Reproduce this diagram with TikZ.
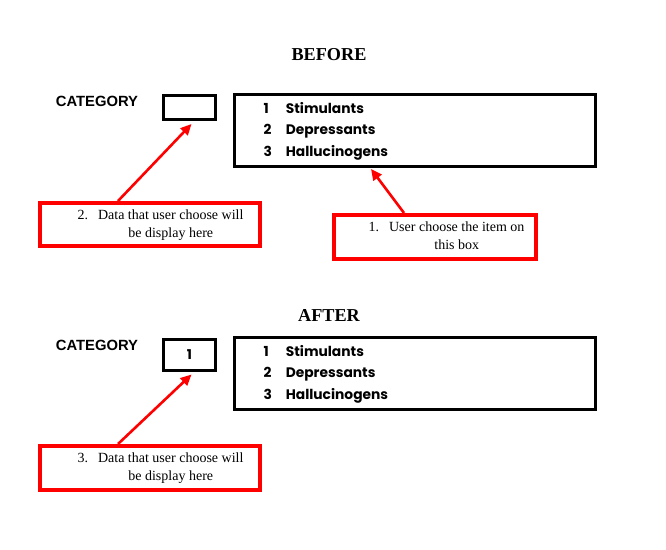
\documentclass[tikz,border=0pt]{standalone}
\usepackage{fontspec}
\setmainfont{Liberation Serif}
\newfontfamily\catfont{Liberation Sans}
\newfontfamily\listfont{Poppins}
\usetikzlibrary{arrows.meta,positioning}

\newcommand{\drugitems}{%
  \renewcommand{\arraystretch}{1.2}%
  \begin{tabular}{@{}l@{\hspace{14pt}}l@{}}
    1 & Stimulants\\
    2 & Depressants\\
    3 & Hallucinogens
  \end{tabular}}

\begin{document}
\begin{tikzpicture}[x=1pt, y=-1pt,
  title/.style={font=\fontsize{18.2}{21}\selectfont\bfseries},
  catlabel/.style={font=\catfont\fontsize{14.8}{17}\selectfont\bfseries},
  valbox/.style={draw, line width=3pt, minimum width=52pt, inner sep=0pt,
                 font=\listfont\fontsize{13.5}{16}\selectfont\bfseries},
  listbox/.style={draw, line width=3pt, minimum width=361pt, minimum height=72pt,
                  inner sep=0pt, text width=361pt, align=left,
                  font=\listfont\fontsize{13.8}{18}\selectfont\bfseries},
  note/.style={draw=red, line width=4pt, minimum width=220pt, inner sep=0pt,
               font=\fontsize{14}{16.8}\selectfont},
  arr/.style={-{Triangle[length=11pt,width=10pt]}, red, line width=2.6pt}
]
\useasboundingbox (0,0) rectangle (666,549);

% before
\node[title] (before) at (329,55) {BEFORE};
\node[catlabel] (catA) at (97,101) {CATEGORY};
\node[valbox, minimum height=24pt] (valA) at (189.5,107.5) {};
\node[listbox] (listA) at (415,130.5) {\hspace*{29pt}\drugitems};
\node[note, minimum height=43pt] (noteB) at (150,224.5)
  {\hspace*{21pt}\renewcommand{\arraystretch}{1.07}%
   \begin{tabular}{@{}r@{\hspace{10pt}}c@{}}2. & Data that user choose will\\ & be display here\end{tabular}};
\node[note, minimum width=202pt, minimum height=44pt] (noteA) at (435,237)
  {\hspace*{23pt}\renewcommand{\arraystretch}{1.07}%
   \begin{tabular}{@{}r@{\hspace{10pt}}c@{}}1. & User choose the item on\\ & this box\end{tabular}};
\draw[arr] ([shift={(-32,0)}]noteB.north) -- ([shift={(2,3)}]valA.south);
\draw[arr] ([shift={(-31,0)}]noteA.north) -- ([shift={(-44,1)}]listA.south);

% after
\node[title] (after) at (329,315) {AFTER};
\node[catlabel] (catB) at (97,345) {CATEGORY};
\node[valbox, minimum height=31pt] (valB) at (189.5,354.5) {1};
\node[listbox] (listB) at (415,373.5) {\hspace*{29pt}\drugitems};
\node[note, minimum height=44pt] (noteC) at (150,468)
  {\hspace*{21pt}\renewcommand{\arraystretch}{1.07}%
   \begin{tabular}{@{}r@{\hspace{10pt}}c@{}}3. & Data that user choose will\\ & be display here\end{tabular}};
\draw[arr] ([shift={(-32,0)}]noteC.north) -- ([shift={(2,3)}]valB.south);
\end{tikzpicture}
\end{document}
